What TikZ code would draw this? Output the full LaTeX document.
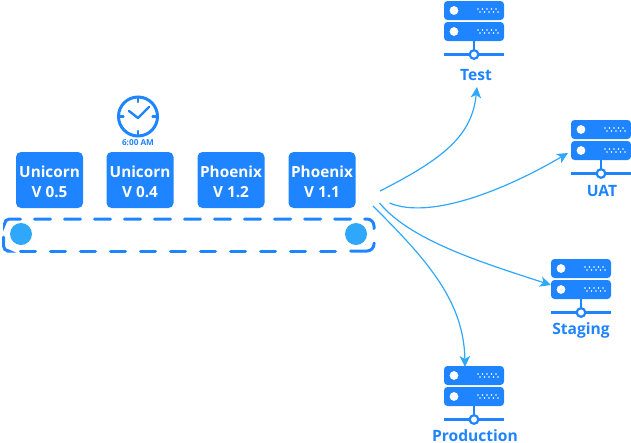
\documentclass[tikz,border=0pt]{standalone}
\usepackage{fontspec}
\setmainfont{Open Sans}
\usetikzlibrary{arrows.meta}
\definecolor{boxblue}{HTML}{1E84FF}
\definecolor{arrowblue}{HTML}{2FA8FB}
\newcommand{\firstline}{\rule{0pt}{15.5pt}}
\tikzset{
  x=1pt,y=-1pt,
  version/.style={fill=boxblue,rounded corners=5pt,minimum width=67pt,minimum height=56pt,inner sep=0pt,text=white,align=center,font=\fontsize{15.3}{20}\selectfont\bfseries},
  srvlabel/.style={text=boxblue,inner sep=0pt,font=\fontsize{15.6}{17}\selectfont\bfseries},
  flow/.style={arrowblue,line width=1.2pt,-{Stealth[length=11pt,width=10.5pt,inset=3pt]}},
  wheel/.style={circle,fill=arrowblue,minimum size=22pt,inner sep=0pt},
  belt/.style={boxblue,line width=3pt,line cap=round,rounded corners=7pt},
  clockmark/.style={boxblue,line width=2.2pt,line cap=round},
  srvline/.style={boxblue,line width=2.2pt}
}
\newcommand{\serverunit}[3]{%
  \begin{scope}[shift={(#1,#2)}]
    \fill[boxblue,rounded corners=3.5pt] (0,0) rectangle (60,19);
    \fill[boxblue,rounded corners=3.5pt] (0,21) rectangle (60,40);
    \fill[white] (10,9.5) circle (4.4);
    \fill[white] (10,30.5) circle (4.4);
    \foreach \yy/\dx in {8/0,11/2,29/0,32/2}{
      \foreach \xx in {34,38.5,43,47.5,52}{
        \fill[white] (\xx+\dx,\yy) circle (0.9);
      }
    }
    \draw[srvline] (30,40) -- (30,49);
    \draw[srvline] (0,53.5) -- (60,53.5);
    \draw[srvline,fill=white] (30,53.5) circle (4.3);
    \coordinate (#3) at (30,0);
  \end{scope}}
\begin{document}
\begin{tikzpicture}
\useasboundingbox (0,0) rectangle (631,442);
% versions
\node[version] (u5) at (49.5,180) {\firstline Unicorn\\V 0.5};
\node[version] (u4) at (140,180) {\firstline Unicorn\\V 0.4};
\node[version] (p2) at (231,180) {\firstline Phoenix\\V 1.2};
\node[version] (p1) at (322,180) {\firstline Phoenix\\V 1.1};
% clock
\draw[boxblue,line width=3pt] (138,116.5) circle (19.5);
\foreach \a in {0,90,180,270}{
  \draw[clockmark] (138,116.5) ++(\a:18) -- ++(\a:-3.5);
}
\draw[boxblue,line width=2.4pt,line cap=round,line join=round] (129,111) -- (138,118) -- (149,107);
\node[text=boxblue,inner sep=0pt,font=\fontsize{8.2}{9}\selectfont\bfseries] (clk) at (138,143) {6:00 AM};
% conveyor
\draw[belt,dash pattern=on 16pt off 14pt] (34.5,219) -- (374,219) -- (374,231);
\draw[belt] (374,243) -- (374,251) -- (350.5,251);
\draw[belt,dash pattern=on 15pt off 15pt] (335.5,251) -- (20,251);
\draw[belt,rounded corners=5pt] (3.5,237) -- (3.5,251) -- (7,251);
\draw[belt,rounded corners=5pt] (4.5,223) -- (4.5,219) -- (20.5,219);
\node[wheel] (w1) at (21,234) {};
\node[wheel] (w2) at (356,234) {};
% servers
\serverunit{444}{1}{s1}
\serverunit{571}{120}{s2}
\serverunit{551}{259}{s3}
\serverunit{444}{366}{s4}
\node[srvlabel] (test) at (476,75) {Test};
\node[srvlabel] (uat) at (602,191) {UAT};
\node[srvlabel] (staging) at (581,330) {Staging};
\node[srvlabel] (prod) at (475,435.5) {Production};
% connectors
\coordinate (a) at (380,191);
\coordinate (b) at (389.5,203);
\coordinate (c) at (379.5,203);
\coordinate (d) at (373,206);
\coordinate (ta) at (477,87);
\coordinate (tb) at (568,153);
\coordinate (tc) at (551,285);
\coordinate (td) at (465,367);
\draw[flow] (a) .. controls (445,158) and (472,135) .. (ta);
\draw[flow] (b) .. controls (430,220) and (505,190) .. (tb);
\draw[flow] (c) .. controls (410,240) and (480,262) .. (tc);
\draw[flow] (d) .. controls (425,258) and (464,300) .. (td);
\end{tikzpicture}
\end{document}
